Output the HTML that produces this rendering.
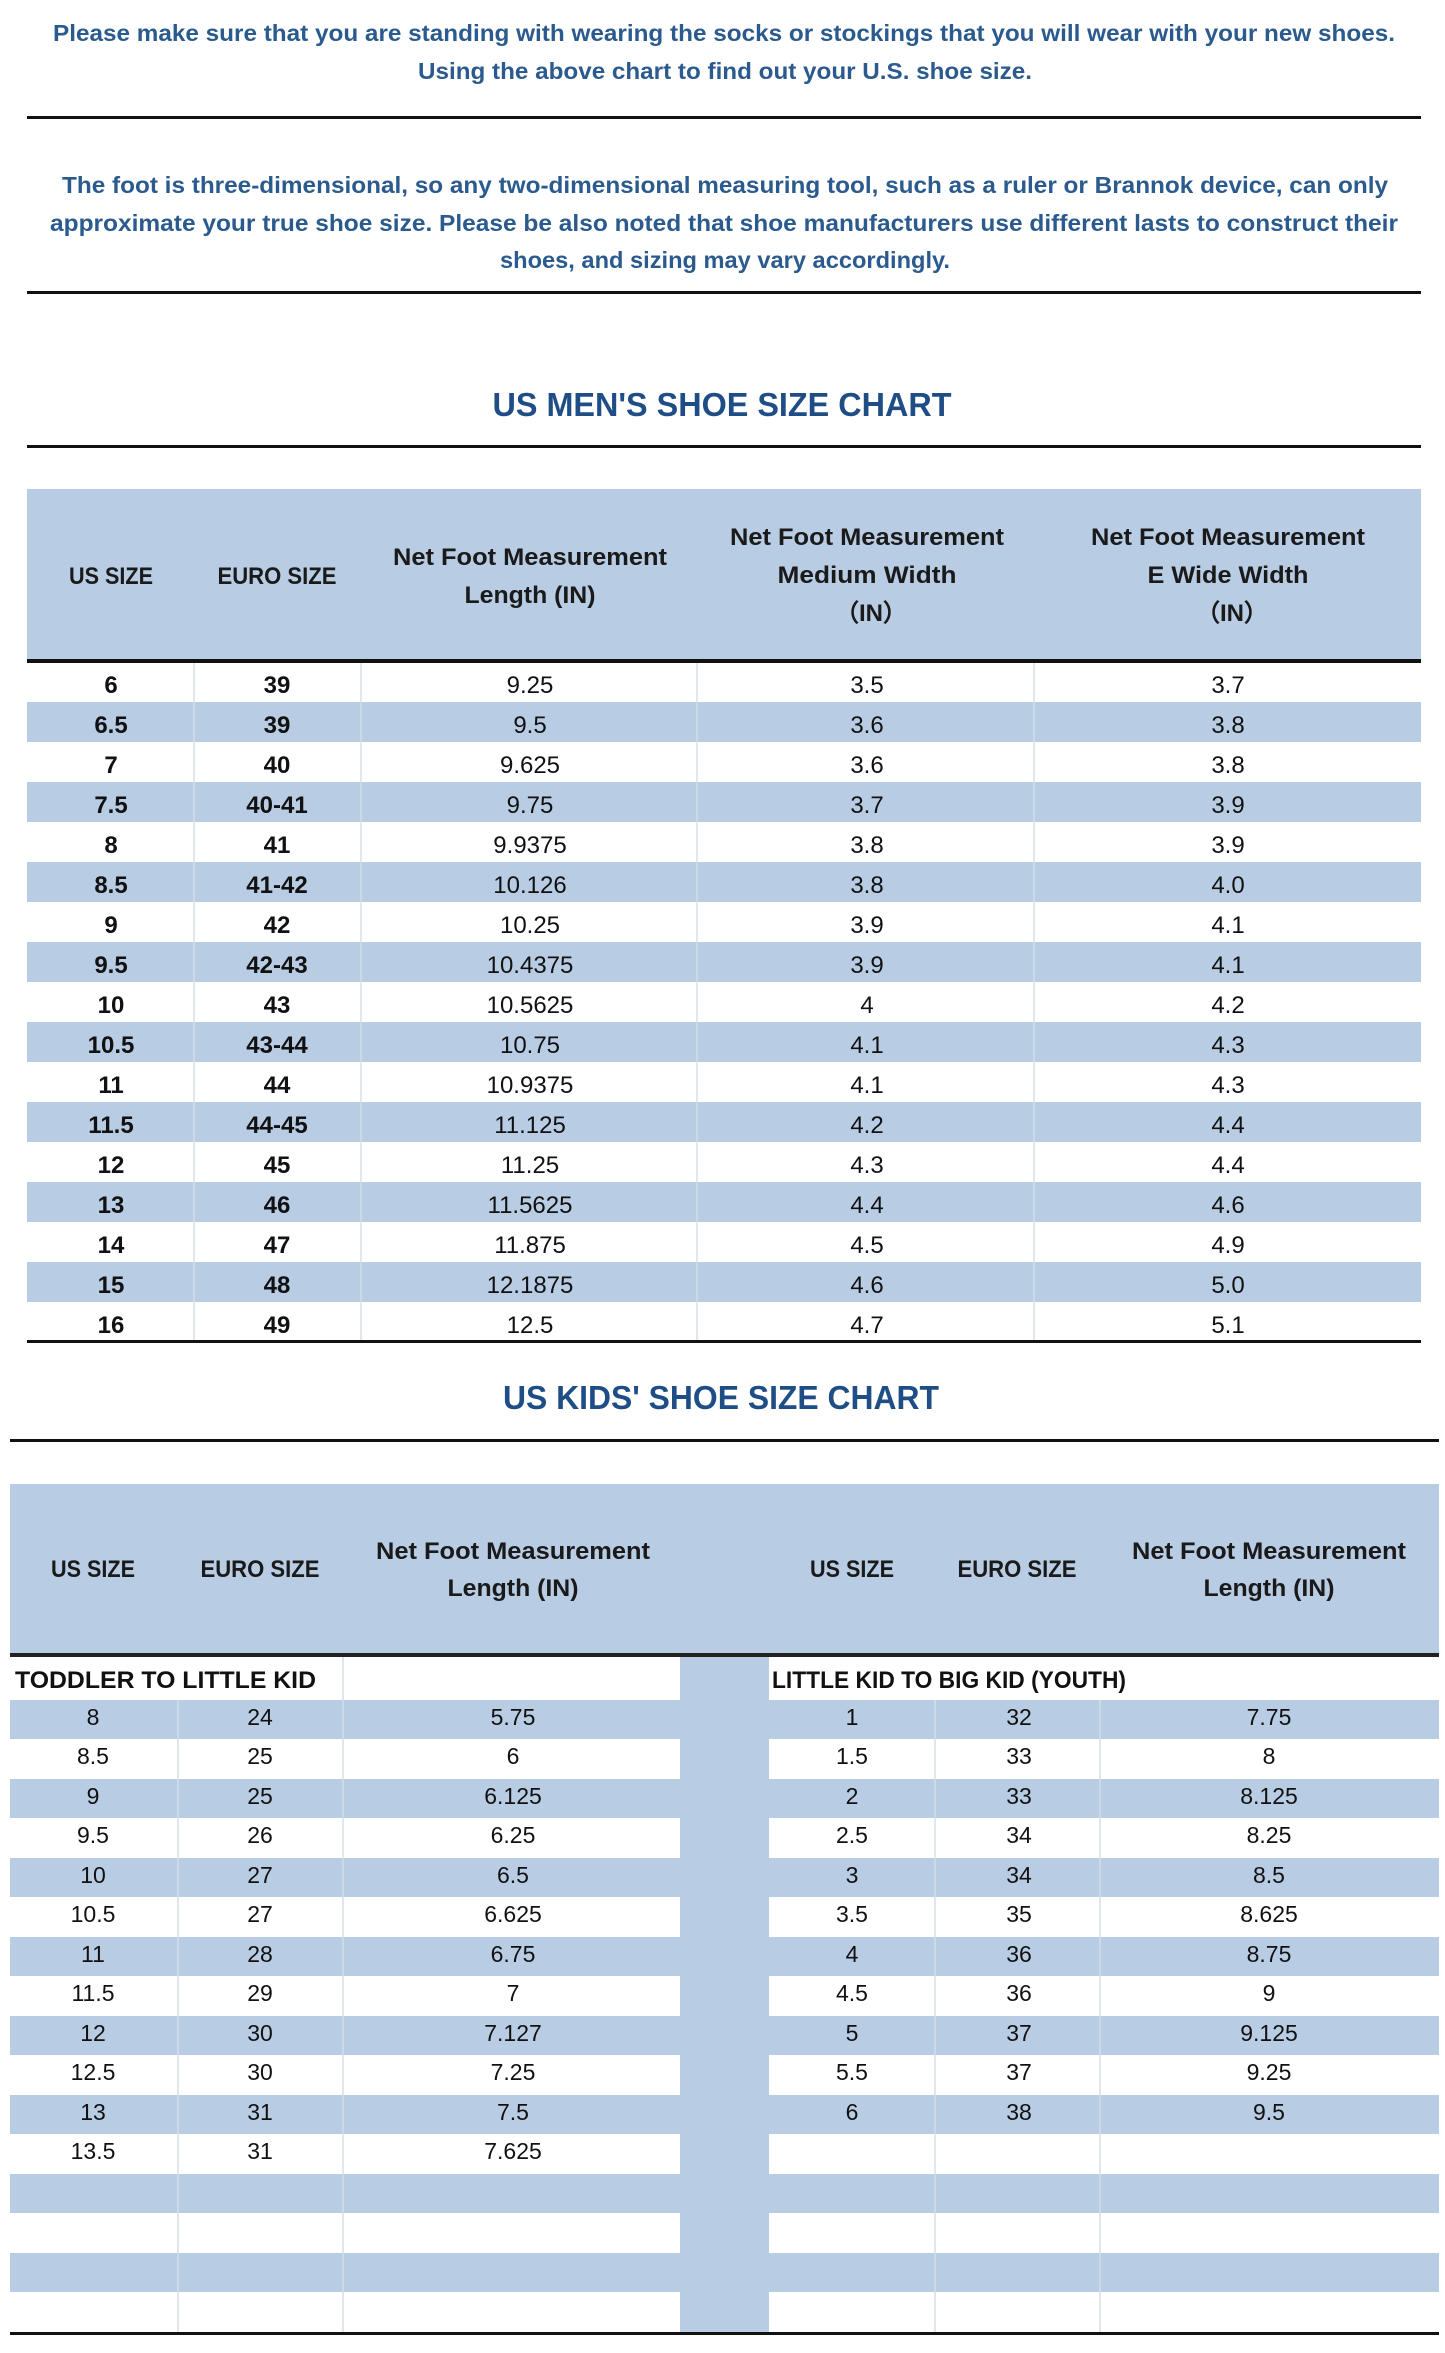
<!DOCTYPE html>
<html><head><meta charset="utf-8"><style>
html,body{margin:0;padding:0;background:#fff;}
svg{display:block;}
.b{font-family:"Liberation Sans",sans-serif;font-weight:bold;}
.n{font-family:"Liberation Sans",sans-serif;}
</style></head><body>
<svg width="1445" height="2353" viewBox="0 0 1445 2353" xmlns="http://www.w3.org/2000/svg">
<g class="b" fill="#2a5a8e" font-size="23" text-anchor="middle">
<text x="724" y="41" textLength="1342" lengthAdjust="spacingAndGlyphs">Please make sure that you are standing with wearing the socks or stockings that you will wear with your new shoes.</text>
<text x="725" y="79" textLength="614" lengthAdjust="spacingAndGlyphs">Using the above chart to find out your U.S. shoe size.</text>
<text x="725" y="193" textLength="1326" lengthAdjust="spacingAndGlyphs">The foot is three-dimensional, so any two-dimensional measuring tool, such as a ruler or Brannok device, can only</text>
<text x="724" y="231" textLength="1348" lengthAdjust="spacingAndGlyphs">approximate your true shoe size. Please be also noted that shoe manufacturers use different lasts to construct their</text>
<text x="725" y="268" textLength="450" lengthAdjust="spacingAndGlyphs">shoes, and sizing may vary accordingly.</text>
</g>
<g fill="#1f4e86" class="b" font-size="33" text-anchor="middle">
<text x="722" y="416" textLength="459" lengthAdjust="spacingAndGlyphs">US MEN'S SHOE SIZE CHART</text>
<text x="721" y="1409" textLength="436" lengthAdjust="spacingAndGlyphs">US KIDS' SHOE SIZE CHART</text>
</g>
<g fill="#111">
<rect x="27" y="116" width="1394" height="3"/>
<rect x="27" y="291" width="1394" height="3"/>
<rect x="27" y="445" width="1394" height="3"/>
<rect x="10" y="1439" width="1429" height="3"/>
</g>
<!-- MEN TABLE -->
<rect x="27" y="489" width="1394" height="172" fill="#b8cce4"/>
<g fill="#b8cce4">
<rect x="27" y="702" width="1394" height="40"/><rect x="27" y="782" width="1394" height="40"/>
<rect x="27" y="862" width="1394" height="40"/><rect x="27" y="942" width="1394" height="40"/>
<rect x="27" y="1022" width="1394" height="40"/><rect x="27" y="1102" width="1394" height="40"/>
<rect x="27" y="1182" width="1394" height="40"/><rect x="27" y="1262" width="1394" height="40"/>
</g>
<g stroke="#d5dde8" stroke-width="1.5">
<line x1="194" y1="662" x2="194" y2="1342"/><line x1="361" y1="662" x2="361" y2="1342"/>
<line x1="697" y1="662" x2="697" y2="1342"/><line x1="1034" y1="662" x2="1034" y2="1342"/>
</g>
<rect x="27" y="659" width="1394" height="4" fill="#111"/>
<rect x="27" y="1340" width="1394" height="3" fill="#111"/>
<g class="b" fill="#1a1a1a" font-size="24" text-anchor="middle">
<text x="111" y="584" textLength="84" lengthAdjust="spacingAndGlyphs">US SIZE</text>
<text x="277" y="584" textLength="119" lengthAdjust="spacingAndGlyphs">EURO SIZE</text>
<text x="530" y="565" textLength="274" lengthAdjust="spacingAndGlyphs">Net Foot Measurement</text>
<text x="530" y="603" textLength="131" lengthAdjust="spacingAndGlyphs">Length (IN)</text>
<text x="867" y="545" textLength="274" lengthAdjust="spacingAndGlyphs">Net Foot Measurement</text>
<text x="867" y="583" textLength="179" lengthAdjust="spacingAndGlyphs">Medium Width</text>
<text x="871" y="621">（IN）</text>
<text x="1228" y="545" textLength="274" lengthAdjust="spacingAndGlyphs">Net Foot Measurement</text>
<text x="1228" y="583" textLength="161" lengthAdjust="spacingAndGlyphs">E Wide Width</text>
<text x="1232" y="621">（IN）</text>
</g>
<g fill="#111" font-size="24" text-anchor="middle" transform="translate(0,-4)">
<g class="b">
<text x="111" y="697">6</text><text x="277" y="697">39</text>
<text x="111" y="737">6.5</text><text x="277" y="737">39</text>
<text x="111" y="777">7</text><text x="277" y="777">40</text>
<text x="111" y="817">7.5</text><text x="277" y="817">40-41</text>
<text x="111" y="857">8</text><text x="277" y="857">41</text>
<text x="111" y="897">8.5</text><text x="277" y="897">41-42</text>
<text x="111" y="937">9</text><text x="277" y="937">42</text>
<text x="111" y="977">9.5</text><text x="277" y="977">42-43</text>
<text x="111" y="1017">10</text><text x="277" y="1017">43</text>
<text x="111" y="1057">10.5</text><text x="277" y="1057">43-44</text>
<text x="111" y="1097">11</text><text x="277" y="1097">44</text>
<text x="111" y="1137">11.5</text><text x="277" y="1137">44-45</text>
<text x="111" y="1177">12</text><text x="277" y="1177">45</text>
<text x="111" y="1217">13</text><text x="277" y="1217">46</text>
<text x="111" y="1257">14</text><text x="277" y="1257">47</text>
<text x="111" y="1297">15</text><text x="277" y="1297">48</text>
<text x="111" y="1337">16</text><text x="277" y="1337">49</text>
</g>
<g class="n">
<text x="530" y="697">9.25</text><text x="867" y="697">3.5</text><text x="1228" y="697">3.7</text>
<text x="530" y="737">9.5</text><text x="867" y="737">3.6</text><text x="1228" y="737">3.8</text>
<text x="530" y="777">9.625</text><text x="867" y="777">3.6</text><text x="1228" y="777">3.8</text>
<text x="530" y="817">9.75</text><text x="867" y="817">3.7</text><text x="1228" y="817">3.9</text>
<text x="530" y="857">9.9375</text><text x="867" y="857">3.8</text><text x="1228" y="857">3.9</text>
<text x="530" y="897">10.126</text><text x="867" y="897">3.8</text><text x="1228" y="897">4.0</text>
<text x="530" y="937">10.25</text><text x="867" y="937">3.9</text><text x="1228" y="937">4.1</text>
<text x="530" y="977">10.4375</text><text x="867" y="977">3.9</text><text x="1228" y="977">4.1</text>
<text x="530" y="1017">10.5625</text><text x="867" y="1017">4</text><text x="1228" y="1017">4.2</text>
<text x="530" y="1057">10.75</text><text x="867" y="1057">4.1</text><text x="1228" y="1057">4.3</text>
<text x="530" y="1097">10.9375</text><text x="867" y="1097">4.1</text><text x="1228" y="1097">4.3</text>
<text x="530" y="1137">11.125</text><text x="867" y="1137">4.2</text><text x="1228" y="1137">4.4</text>
<text x="530" y="1177">11.25</text><text x="867" y="1177">4.3</text><text x="1228" y="1177">4.4</text>
<text x="530" y="1217">11.5625</text><text x="867" y="1217">4.4</text><text x="1228" y="1217">4.6</text>
<text x="530" y="1257">11.875</text><text x="867" y="1257">4.5</text><text x="1228" y="1257">4.9</text>
<text x="530" y="1297">12.1875</text><text x="867" y="1297">4.6</text><text x="1228" y="1297">5.0</text>
<text x="530" y="1337">12.5</text><text x="867" y="1337">4.7</text><text x="1228" y="1337">5.1</text>
</g>
</g>
<!-- KIDS TABLE -->
<rect x="10" y="1484" width="1429" height="171" fill="#b8cce4"/>
<g fill="#b8cce4">
<rect x="10" y="1700" width="1429" height="39"/><rect x="10" y="1779" width="1429" height="39"/>
<rect x="10" y="1858" width="1429" height="39"/><rect x="10" y="1937" width="1429" height="39"/>
<rect x="10" y="2016" width="1429" height="39"/><rect x="10" y="2095" width="1429" height="39"/>
<rect x="10" y="2174" width="1429" height="39"/><rect x="10" y="2253" width="1429" height="39"/>
<rect x="680" y="1655" width="89" height="680"/>
</g>
<g stroke="#d5dde8" stroke-width="1.5">
<line x1="343" y1="1657" x2="343" y2="2334"/>
<line x1="178" y1="1700" x2="178" y2="2334"/>
<line x1="935" y1="1700" x2="935" y2="2334"/><line x1="1100" y1="1700" x2="1100" y2="2334"/>
</g>
<rect x="10" y="1653" width="1429" height="4" fill="#222"/>
<rect x="10" y="2332" width="1429" height="3" fill="#111"/>
<g class="b" fill="#1a1a1a" font-size="24" text-anchor="middle">
<text x="93" y="1577" textLength="84" lengthAdjust="spacingAndGlyphs">US SIZE</text>
<text x="260" y="1577" textLength="119" lengthAdjust="spacingAndGlyphs">EURO SIZE</text>
<text x="513" y="1559" textLength="274" lengthAdjust="spacingAndGlyphs">Net Foot Measurement</text>
<text x="513" y="1596" textLength="131" lengthAdjust="spacingAndGlyphs">Length (IN)</text>
<text x="852" y="1577" textLength="84" lengthAdjust="spacingAndGlyphs">US SIZE</text>
<text x="1017" y="1577" textLength="119" lengthAdjust="spacingAndGlyphs">EURO SIZE</text>
<text x="1269" y="1559" textLength="274" lengthAdjust="spacingAndGlyphs">Net Foot Measurement</text>
<text x="1269" y="1596" textLength="131" lengthAdjust="spacingAndGlyphs">Length (IN)</text>
</g>
<g class="b" fill="#111" font-size="24">
<text x="15" y="1688" textLength="301" lengthAdjust="spacingAndGlyphs">TODDLER TO LITTLE KID</text>
<text x="772" y="1688" textLength="354" lengthAdjust="spacingAndGlyphs">LITTLE KID TO BIG KID (YOUTH)</text>
</g>
<g class="n" fill="#111" font-size="23" text-anchor="middle" transform="translate(0,-2)">
<text x="93" y="1727">8</text><text x="260" y="1727">24</text><text x="513" y="1727">5.75</text>
<text x="852" y="1727">1</text><text x="1019" y="1727">32</text><text x="1269" y="1727">7.75</text>
<text x="93" y="1766">8.5</text><text x="260" y="1766">25</text><text x="513" y="1766">6</text>
<text x="852" y="1766">1.5</text><text x="1019" y="1766">33</text><text x="1269" y="1766">8</text>
<text x="93" y="1806">9</text><text x="260" y="1806">25</text><text x="513" y="1806">6.125</text>
<text x="852" y="1806">2</text><text x="1019" y="1806">33</text><text x="1269" y="1806">8.125</text>
<text x="93" y="1845">9.5</text><text x="260" y="1845">26</text><text x="513" y="1845">6.25</text>
<text x="852" y="1845">2.5</text><text x="1019" y="1845">34</text><text x="1269" y="1845">8.25</text>
<text x="93" y="1885">10</text><text x="260" y="1885">27</text><text x="513" y="1885">6.5</text>
<text x="852" y="1885">3</text><text x="1019" y="1885">34</text><text x="1269" y="1885">8.5</text>
<text x="93" y="1924">10.5</text><text x="260" y="1924">27</text><text x="513" y="1924">6.625</text>
<text x="852" y="1924">3.5</text><text x="1019" y="1924">35</text><text x="1269" y="1924">8.625</text>
<text x="93" y="1964">11</text><text x="260" y="1964">28</text><text x="513" y="1964">6.75</text>
<text x="852" y="1964">4</text><text x="1019" y="1964">36</text><text x="1269" y="1964">8.75</text>
<text x="93" y="2003">11.5</text><text x="260" y="2003">29</text><text x="513" y="2003">7</text>
<text x="852" y="2003">4.5</text><text x="1019" y="2003">36</text><text x="1269" y="2003">9</text>
<text x="93" y="2043">12</text><text x="260" y="2043">30</text><text x="513" y="2043">7.127</text>
<text x="852" y="2043">5</text><text x="1019" y="2043">37</text><text x="1269" y="2043">9.125</text>
<text x="93" y="2082">12.5</text><text x="260" y="2082">30</text><text x="513" y="2082">7.25</text>
<text x="852" y="2082">5.5</text><text x="1019" y="2082">37</text><text x="1269" y="2082">9.25</text>
<text x="93" y="2122">13</text><text x="260" y="2122">31</text><text x="513" y="2122">7.5</text>
<text x="852" y="2122">6</text><text x="1019" y="2122">38</text><text x="1269" y="2122">9.5</text>
<text x="93" y="2161">13.5</text><text x="260" y="2161">31</text><text x="513" y="2161">7.625</text>
</g>
</svg>
</body></html>
